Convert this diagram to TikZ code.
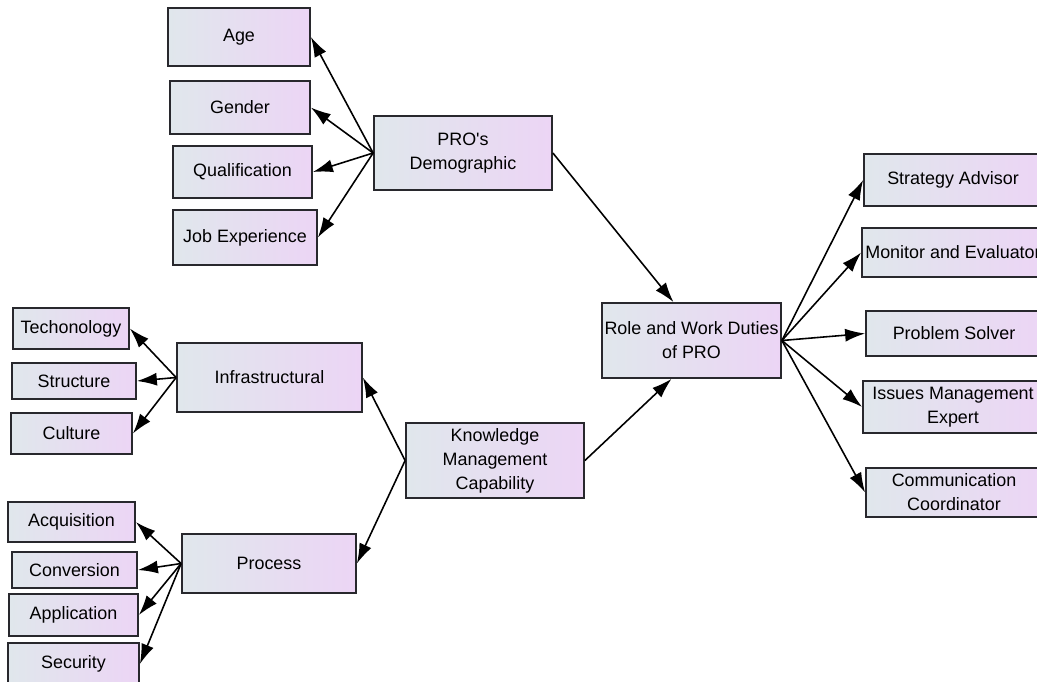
\documentclass[tikz,border=0pt]{standalone}
\usepackage{fontspec}
\setmainfont{Liberation Sans}
\usepackage{tikz}
\usetikzlibrary{arrows.meta,calc,positioning}
\definecolor{boxleft}{RGB}{224,231,236}
\definecolor{boxright}{RGB}{236,213,245}
\definecolor{boxline}{RGB}{40,40,45}

\begin{document}
\begin{tikzpicture}[
  x=0.02cm, y=-0.02cm,
  >=Latex,
  box/.style={
    draw=boxline,
    line width=1pt,
    left color=boxleft,
    right color=boxright,
    inner sep=0pt,
    align=center,
    font=\fontsize{10.2}{13.6}\selectfont
  },
  sz/.style 2 args={
    minimum width=#1*0.02cm,
    minimum height=#2*0.02cm
  },
  link/.style={
    -{Latex[length=4mm,width=2.6mm]},
    line width=0.9pt,
    black
  }
]

\useasboundingbox (0,0) rectangle (1037,681);
\clip (0,0) rectangle (1037,681);

% Demographic branch
\node[box,sz={142}{58}] (age) at (239,37) {Age};
\node[box,sz={140}{53}] (gender) at (240,107.5) {Gender};
\node[box,sz={139}{52}] (qual) at (242.5,172) {Qualification};
\node[box,sz={144}{55}] (jobexp) at (245,237.5) {Job Experience};
\node[box,sz={178}{74}] (demo) at (463,153) {PRO\textquotesingle s\\Demographic};

% Infrastructural branch
\node[box,sz={116}{41}] (tech) at (71,328.5) {Techonology};
\node[box,sz={124}{36}] (struct) at (74,381) {Structure};
\node[box,sz={121}{41}] (cult) at (71.5,433.5) {Culture};
\node[box,sz={185}{69}] (infra) at (269.5,377.5) {Infrastructural};

% Process branch
\node[box,sz={127}{40}] (acq) at (71.5,522) {Acquisition};
\node[box,sz={125}{36}] (conv) at (74.5,570) {Conversion};
\node[box,sz={129}{42}] (appl) at (73.5,615) {Application};
\node[box,sz={131}{42}] (secur) at (73.5,664) {Security};
\node[box,sz={174}{59}] (proc) at (269,563.5) {Process};

\node[box,sz={178}{75}] (kmc) at (495,460.5)
  {Knowledge\\Management\\Capability};

% Role and its duties
\node[box,sz={179}{75}] (role) at (691.5,340.5)
  {Role and Work Duties\\of PRO};

\node[box,sz={178}{52}] (strat) at (953,180) {Strategy Advisor};
\node[box,sz={182}{49}] (monit) at (953,252.5) {Monitor and Evaluator};
\node[box,sz={176}{45}] (probl) at (954,333.5) {Problem Solver};
\node[box,sz={180}{52}] (issue) at (953,407) {Issues Management\\Expert};
\node[box,sz={176}{49}] (comm) at (954,492.5) {Communication\\Coordinator};

% Fan-out arrows
\foreach \t in {age,gender,qual,jobexp}
  \draw[link] (demo.west) -- (\t.east);
\foreach \t in {tech,struct,cult}
  \draw[link] (infra.west) -- (\t.east);
\foreach \t in {acq,conv,appl,secur}
  \draw[link] (proc.west) -- (\t.east);
\foreach \t in {strat,monit,probl,issue,comm}
  \draw[link] (role.east) -- (\t.west);

\draw[link] (kmc.west) -- (infra.east);
\draw[link] (kmc.west) -- (proc.east);

% Into the role
\draw[link] (demo.east) -- ($(role.north)+(-18,0)$);
\draw[link] (kmc.east) -- ($(role.south)+(-20,0)$);

\end{tikzpicture}
\end{document}
